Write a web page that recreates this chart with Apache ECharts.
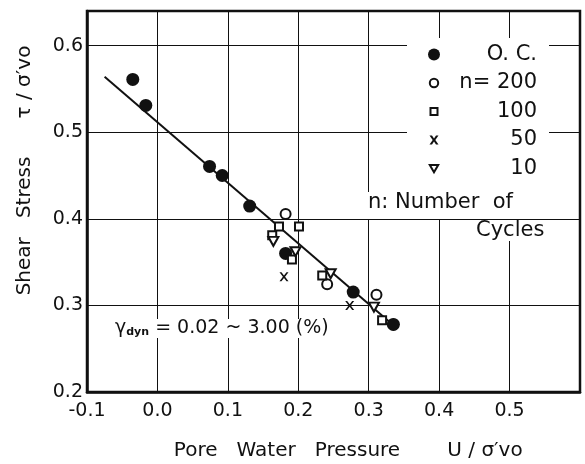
<!DOCTYPE html>
<html>
<head>
<meta charset="utf-8">
<script src="https://cdn.jsdelivr.net/npm/echarts@6/dist/echarts.min.js"></script>
<style>
  html, body { margin: 0; padding: 0; background: #fff; }
  #chart { width: 585px; height: 464px; }
</style>
</head>
<body>
<div id="chart"></div>
<script>
// values (x = U/σ'vo, y = τ/σ'vo)
var ocPoints   = [[-0.035, 0.561], [-0.0165, 0.531], [0.074, 0.4605], [0.092, 0.450], [0.131, 0.4147], [0.182, 0.360], [0.278, 0.3154], [0.335, 0.278]];
var n200Points = [[0.182, 0.4055], [0.241, 0.3243], [0.311, 0.3124], [0.335, 0.278]];
var n100Points = [[0.1726, 0.391], [0.201, 0.391], [0.163, 0.381], [0.191, 0.353], [0.234, 0.3346], [0.319, 0.283]];
var n50Points  = [[0.1797, 0.333], [0.273, 0.300]];
var n10Points  = [[0.1646, 0.374], [0.196, 0.362], [0.246, 0.3366], [0.3074, 0.298]];
var fitLine    = [[-0.075, 0.564], [0.335, 0.277]];

var legendNames = ['O. C.', 'n= 200', '100', '50', '10'];
var xTitleLeft = 'Pore   Water   Pressure';
var xTitleRight = 'U / σ′vo';
var yTitleLow = 'Shear   Stress';
var yTitleHigh = 'τ / σ′vo';
var noteText = ' = 0.02 ~ 3.00 (%)';

var FONT = 'DejaVu Sans';
var INK = '#111';

//标记形状
var crossPath = 'path://M0,0 L2.2,0 L5,3.6 L7.8,0 L10,0 L6.2,5 L10,10 L7.8,10 L5,6.4 L2.2,10 L0,10 L3.8,5 Z';
var triPath = 'path://M0,0 L10,0 L5,9 Z';
//图例图标：先用两个 moveTo 撑开 12x12 的框，图形本身小一点
var iconOC = 'path://M0,0 M12,12 M12,6 A6,6 0 1 1 0,6 A6,6 0 1 1 12,6 Z';
var icon200 = 'path://M0,0 M12,12 M10.2,6 A4.2,4.2 0 1 1 1.8,6 A4.2,4.2 0 1 1 10.2,6 Z';
var icon100 = 'path://M0,0 M12,12 M2.5,2.5 L9.5,2.5 L9.5,9.5 L2.5,9.5 Z';
var icon50 = 'path://M0,0 M12,12 M1.5,1.5 L4,1.5 L6,4.4 L8,1.5 L10.5,1.5 L7.3,6 L10.5,10.5 L8,10.5 L6,7.6 L4,10.5 L1.5,10.5 L4.7,6 Z';
var icon10 = 'path://M0,0 M12,12 M1.8,2.5 L10.2,2.5 L6,9.8 Z';

var myChart = echarts.init(document.getElementById('chart'));
myChart.setOption({
    backgroundColor: '#fff',
    animation: false,
    grid: {
        left: 87, right: 5, top: 11, bottom: 72,
        show: true, borderColor: INK, borderWidth: 2.5
    },
    xAxis: {
        type: 'value', min: -0.1, max: 0.6, interval: 0.1,
        axisLine: { show: true, onZero: false, lineStyle: { color: INK, width: 2.5 } },
        axisTick: { show: false },
        splitLine: { show: true, lineStyle: { color: INK, width: 1 } },
        axisLabel: {
            color: INK, fontFamily: FONT, fontSize: 19, margin: 10,
            formatter: function (v) { return v > 0.55 ? '' : v.toFixed(1); }
        }
    },
    yAxis: {
        type: 'value', min: 0.2, max: 0.64, interval: 0.1,
        axisLine: { show: true, onZero: false, lineStyle: { color: INK, width: 2.5 } },
        axisTick: { show: false },
        splitLine: { show: true, lineStyle: { color: INK, width: 1 } },
        axisLabel: {
            color: INK, fontFamily: FONT, fontSize: 19, margin: 4,
            formatter: function (v) { return v > 0.61 ? '' : v.toFixed(1); }
        }
    },
    legend: {
        orient: 'vertical',
        left: 407, top: 38,
        padding: [6, 12, 16, 20],
        backgroundColor: '#fff',
        itemWidth: 12, itemHeight: 12, itemGap: 7.5,
        data: [
            { name: legendNames[0], icon: iconOC },
            { name: legendNames[1], icon: icon200 },
            { name: legendNames[2], icon: icon100 },
            { name: legendNames[3], icon: icon50 },
            { name: legendNames[4], icon: icon10 }
        ],
        formatter: function (name) { return '{a|' + name + '}'; },
        textStyle: {
            color: INK, fontFamily: FONT, fontSize: 21,
            rich: { a: { width: 92, align: 'right', fontSize: 21, lineHeight: 22, fontFamily: FONT, color: INK } }
        }
    },
    series: [
        {
            type: 'line', data: fitLine, symbol: 'none', silent: true,
            lineStyle: { color: INK, width: 2 }, z: 2
        },
        {
            name: legendNames[1], type: 'scatter', data: n200Points,
            symbol: 'circle', symbolSize: 10,
            itemStyle: { color: '#fff', borderColor: INK, borderWidth: 2, opacity: 1 }, z: 3
        },
        {
            name: legendNames[0], type: 'scatter', data: ocPoints,
            symbol: 'circle', symbolSize: 13,
            itemStyle: { color: INK, opacity: 1 }, z: 4
        },
        {
            name: legendNames[2], type: 'scatter', data: n100Points,
            symbol: 'rect', symbolSize: 8,
            itemStyle: { color: '#fff', borderColor: INK, borderWidth: 2, opacity: 1 }, z: 4
        },
        {
            name: legendNames[3], type: 'scatter', data: n50Points,
            symbol: crossPath, symbolSize: 9,
            itemStyle: { color: INK, opacity: 1 }, z: 4
        },
        {
            name: legendNames[4], type: 'scatter', data: n10Points,
            symbol: triPath, symbolSize: [10, 9],
            itemStyle: { color: '#fff', borderColor: INK, borderWidth: 2, opacity: 1 }, z: 4
        }
    ],
    graphic: [
        {
            type: 'text', left: 368, top: 192, z: 10,
            style: { text: 'n: Number  of', font: '21px "DejaVu Sans"', fill: INK, backgroundColor: '#fff', padding: [0, 36, 6, 0] }
        },
        {
            type: 'text', left: 476, top: 220, z: 10,
            style: { text: 'Cycles', font: '21px "DejaVu Sans"', fill: INK, backgroundColor: '#fff', padding: [0, 8, 0, 0] }
        },
        {
            type: 'text', left: 113, top: 319, z: 10,
            style: {
                text: '{g|γ}{s|dyn}{t|' + noteText + '}',
                backgroundColor: '#fff', padding: [0, 4, 0, 2],
                rich: {
                    g: { font: '19px "DejaVu Sans"', fill: INK },
                    s: { font: 'bold 11px "DejaVu Sans"', fill: INK, padding: [8, 0, 0, 0] },
                    t: { font: '19px "DejaVu Sans"', fill: INK }
                }
            }
        },
        {
            type: 'text', x: 287, y: 451, z: 10,
            style: { text: xTitleLeft, font: '20px "DejaVu Sans"', fill: INK, align: 'center', verticalAlign: 'middle' }
        },
        {
            type: 'text', x: 485, y: 451, z: 10,
            style: { text: xTitleRight, font: '20px "DejaVu Sans"', fill: INK, align: 'center', verticalAlign: 'middle' }
        },
        {
            type: 'text', x: 25, y: 226, rotation: Math.PI / 2, z: 10,
            style: { text: yTitleLow, font: '20px "DejaVu Sans"', fill: INK, align: 'center', verticalAlign: 'middle' }
        },
        {
            type: 'text', x: 25, y: 82, rotation: Math.PI / 2, z: 10,
            style: { text: yTitleHigh, font: '20px "DejaVu Sans"', fill: INK, align: 'center', verticalAlign: 'middle' }
        }
    ]
});
</script>
</body>
</html>
